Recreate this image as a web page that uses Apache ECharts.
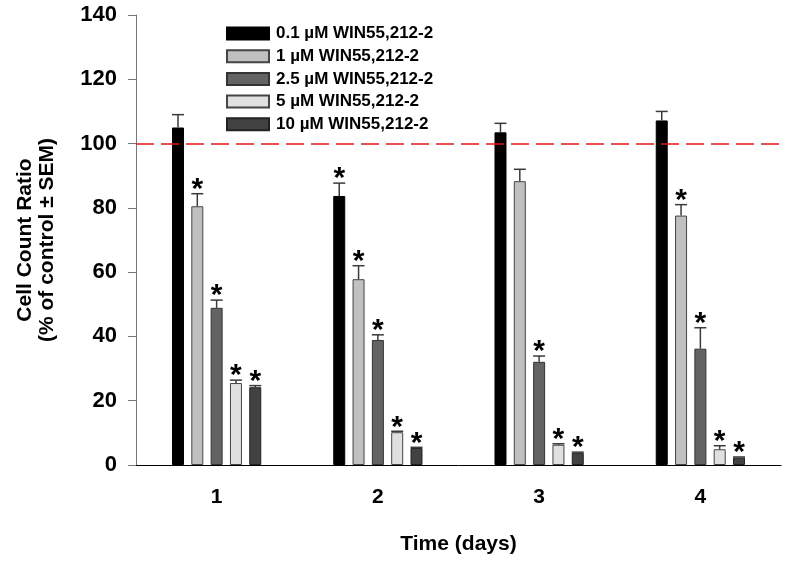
<!DOCTYPE html>
<html>
<head>
<meta charset="utf-8">
<script src="https://cdn.jsdelivr.net/npm/echarts@6/dist/echarts.min.js"></script>
<style>html,body{margin:0;padding:0;background:#fff}#c{width:800px;height:562px}</style>
</head>
<body>
<div id="c"></div>
<script>
const categories = ['1', '2', '3', '4'];
const seriesNames = ['0.1 µM WIN55,212-2', '1 µM WIN55,212-2', '2.5 µM WIN55,212-2', '5 µM WIN55,212-2', '10 µM WIN55,212-2'];
const yTicks = [0, 20, 40, 60, 80, 100, 120, 140];
const controlLevel = 100;

const values01 = [105.0, 83.7, 103.5, 107.2];
const values1 = [80.5, 57.8, 88.3, 77.6];
const values25 = [48.9, 38.9, 32.1, 36.2];
const values5 = [25.5, 10.2, 6.3, 4.9];
const values10 = [24.2, 5.3, 3.8, 2.3];

const sem01 = [4.0, 4.0, 2.8, 2.8];
const sem1 = [3.9, 4.2, 3.7, 3.4];
const sem25 = [2.4, 1.6, 1.8, 6.5];
const sem5 = [0.9, 0.3, 0.3, 1.1];
const sem10 = [0.5, 0.2, 0.2, 0.2];

const sig01 = [0, 1, 0, 0];
const sig1 = [1, 1, 0, 1];
const sig25 = [1, 1, 1, 1];
const sig5 = [1, 1, 1, 1];
const sig10 = [1, 1, 1, 1];

const allValues = [values01, values1, values25, values5, values10];
const allSem = [sem01, sem1, sem25, sem5, sem10];
const allSig = [sig01, sig1, sig25, sig5, sig10];
const colors = ['#000000', '#c0c0c0', '#636363', '#e0e0e0', '#424242'];
const borders = ['#000000', '#444444', '#333333', '#444444', '#222222'];

const BAR_W = 12;
const BAR_GAP = 0.61;
const STEP = BAR_W * (1 + BAR_GAP);
const FONT = 'Liberation Sans, Arial, sans-serif';

const chart = echarts.init(document.getElementById('c'), null, {renderer: 'canvas'});

const series = [];
seriesNames.forEach((name, i) => {
  const s = {
    name: name,
    type: 'bar',
    data: allValues[i],
    barWidth: BAR_W,
    barGap: (BAR_GAP * 100) + '%',
    itemStyle: {color: colors[i], borderColor: borders[i], borderWidth: 1},
    emphasis: {disabled: true},
    z: 2
  };
  if (i === 0) {
    s.markLine = {
      silent: true,
      symbol: 'none',
      label: {show: false},
      lineStyle: {color: '#e8141c', type: [18, 7], width: 1.5},
      data: [{yAxis: controlLevel}]
    };
  }
  series.push(s);
});

seriesNames.forEach((name, i) => {
  series.push({
    type: 'custom',
    name: name + ' err',
    z: 5,
    silent: true,
    data: categories.map((c, k) => [k, allValues[i][k], allSem[i][k], allSig[i][k]]),
    renderItem: function (params, api) {
      const k = api.value(0);
      const v = api.value(1);
      const e = api.value(2);
      const sig = api.value(3);
      const base = api.coord([k, v]);
      const capPt = api.coord([k, v + e]);
      const x = base[0] + (i - 2) * STEP;
      const y0 = base[1];
      const yc = capPt[1];
      const children = [
        {type: 'line', shape: {x1: x, y1: y0, x2: x, y2: yc}, style: {stroke: '#3a3a3a', lineWidth: 1.5}},
        {type: 'line', shape: {x1: x - BAR_W / 2, y1: yc, x2: x + BAR_W / 2, y2: yc}, style: {stroke: '#3a3a3a', lineWidth: 1.5}}
      ];
      if (sig) {
        children.push({
          type: 'text',
          style: {text: '*', x: x, y: yc + 11, fill: '#000', font: 'bold 30px ' + FONT, textAlign: 'center', textVerticalAlign: 'bottom'}
        });
      }
      return {type: 'group', children: children};
    }
  });
});

chart.setOption({
  animation: false,
  backgroundColor: '#ffffff',
  grid: {left: 136, right: 19, top: 15, bottom: 97, containLabel: false, outerBoundsMode: 'none'},
  legend: {
    data: seriesNames,
    orient: 'vertical',
    left: 221,
    top: 20,
    icon: 'rect',
    itemWidth: 42,
    itemHeight: 12,
    itemGap: 5.7,
    selectedMode: false,
    textStyle: {fontFamily: FONT, fontWeight: 'bold', fontSize: 17, color: '#000', lineHeight: 14, padding: [0, 0, 0, 2]}
  },
  xAxis: {
    type: 'category',
    data: categories,
    name: 'Time (days)',
    nameLocation: 'middle',
    nameGap: 69,
    nameTextStyle: {fontFamily: FONT, fontWeight: 'bold', fontSize: 21, color: '#000'},
    axisLine: {lineStyle: {color: '#000', width: 1}},
    axisTick: {alignWithLabel: true, length: 6, lineStyle: {color: '#000'}},
    axisLabel: {fontFamily: FONT, fontWeight: 'bold', fontSize: 21, color: '#000', margin: 22},
    splitLine: {show: false}
  },
  yAxis: {
    type: 'value',
    min: yTicks[0],
    max: yTicks[yTicks.length - 1],
    interval: yTicks[1] - yTicks[0],
    name: 'Cell Count Ratio\n(% of control ± SEM)',
    nameLocation: 'middle',
    nameGap: 78,
    nameTextStyle: {fontFamily: FONT, fontWeight: 'bold', fontSize: 21, color: '#000', lineHeight: 22},
    axisLine: {show: true, lineStyle: {color: '#777', width: 1}},
    axisTick: {show: true, length: 8, lineStyle: {color: '#777'}},
    axisLabel: {fontFamily: FONT, fontWeight: 'bold', fontSize: 22, color: '#000', margin: 19},
    splitLine: {show: false}
  },
  series: series
});
</script>
</body>
</html>
